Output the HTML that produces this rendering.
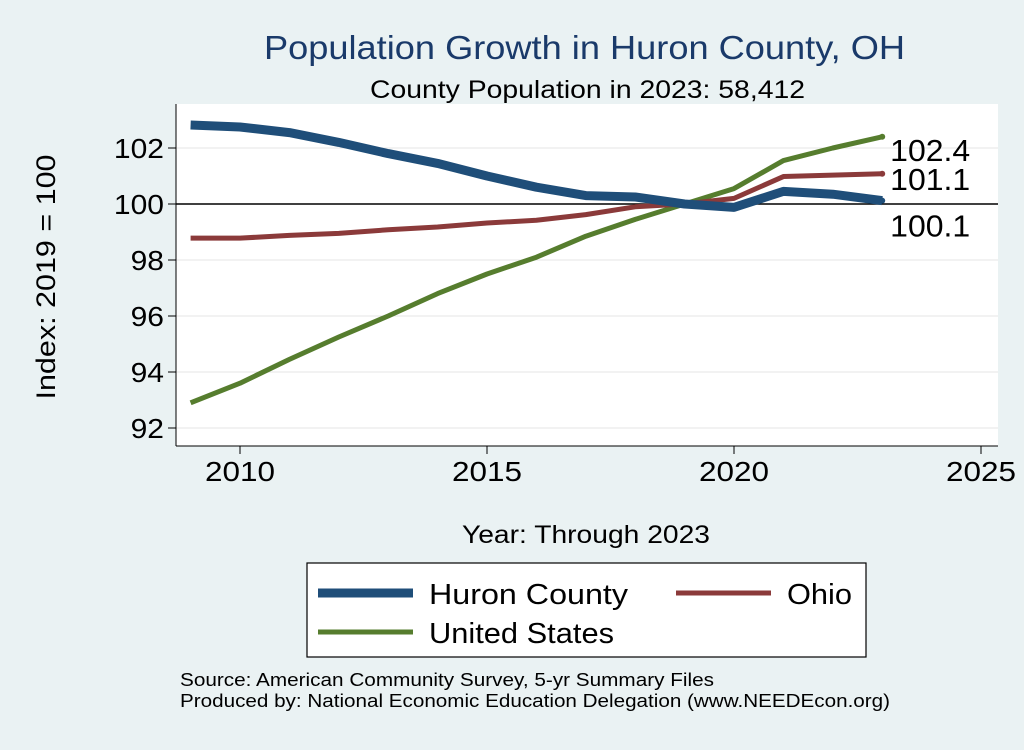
<!DOCTYPE html>
<html><head><meta charset="utf-8"><style>
body{margin:0;width:1024px;height:745px;background:#eaf2f3;font-family:"Liberation Sans",Arial,sans-serif;overflow:hidden}
</style></head><body>
<svg width="1024" height="745" xmlns="http://www.w3.org/2000/svg" font-family="Liberation Sans, Arial, sans-serif">
<rect x="0" y="0" width="1024" height="745" fill="#eaf2f3"/>
<text x="264" y="59" textLength="641" lengthAdjust="spacingAndGlyphs" font-size="33" fill="#1a3a6a">Population Growth in Huron County, OH</text>
<text x="370" y="98" textLength="435" lengthAdjust="spacingAndGlyphs" font-size="25" fill="#000">County Population in 2023: 58,412</text>
<rect x="176" y="104" width="822" height="342" fill="#fff"/>
<g id="grid"></g>
<g id="axes"></g>
<g id="series"></g>
<g id="labels"></g>
<text transform="translate(55,277) rotate(-90)" text-anchor="middle" textLength="245" lengthAdjust="spacingAndGlyphs" font-size="27">Index: 2019 = 100</text>
<text x="462" y="543" textLength="248" lengthAdjust="spacingAndGlyphs" font-size="25">Year: Through 2023</text>
<g>
<rect x="307" y="563" width="559" height="94" fill="#fff" stroke="#000" stroke-width="1.2"/>
<line x1="318" y1="593" x2="413" y2="593" stroke="#1f4e79" stroke-width="9"/>
<text x="429" y="604" textLength="199" lengthAdjust="spacingAndGlyphs" font-size="29">Huron  County</text>
<line x1="676" y1="593" x2="771" y2="593" stroke="#8b3a3a" stroke-width="5"/>
<text x="787" y="604" textLength="65" lengthAdjust="spacingAndGlyphs" font-size="29">Ohio</text>
<line x1="318" y1="632" x2="413" y2="632" stroke="#567d2e" stroke-width="5"/>
<text x="429" y="643" textLength="185" lengthAdjust="spacingAndGlyphs" font-size="29">United States</text>
</g>
<text x="180" y="686" textLength="534" lengthAdjust="spacingAndGlyphs" font-size="18">Source: American Community Survey, 5-yr Summary Files</text>
<text x="180" y="707" textLength="710" lengthAdjust="spacingAndGlyphs" font-size="18">Produced by: National Economic Education Delegation (www.NEEDEcon.org)</text>
</svg>
<script>
const years=[2009,2010,2011,2012,2013,2014,2015,2016,2017,2018,2019,2020,2021,2022,2023];
const huron=[102.82,102.75,102.55,102.2,101.8,101.45,101.0,100.6,100.3,100.25,100.0,99.88,100.45,100.35,100.12];
const ohio=[98.78,98.78,98.88,98.95,99.08,99.18,99.32,99.42,99.62,99.9,100.0,100.2,100.98,101.03,101.08];
const us=[92.9,93.6,94.45,95.25,96.0,96.8,97.5,98.1,98.85,99.45,100.0,100.55,101.55,102.0,102.4];
const yTicks=[92,94,96,98,100,102];
const xTicks=[2010,2015,2020,2025];
const NS="http://www.w3.org/2000/svg";
const X=v=>240+(v-2010)*49.4;
const Y=v=>204-(v-100)*28;
function mk(t,a,p){const e=document.createElementNS(NS,t);for(const k in a)e.setAttribute(k,a[k]);document.getElementById(p).appendChild(e);return e;}
yTicks.forEach(t=>{
 const g=mk('line',{x1:176,x2:998,y1:Y(t),y2:Y(t),stroke:t===100?'#000':'#e6e6e6','stroke-width':t===100?1.5:1},'grid');
 
 
 mk('line',{x1:168,x2:176,y1:Y(t),y2:Y(t),stroke:'#000'},'axes');
 const l=mk('text',{x:164,y:Y(t)+10,'text-anchor':'end','font-size':28,textLength:String(t).length*16.7,lengthAdjust:'spacingAndGlyphs'},'axes');l.textContent=t;
 
 
});
mk('line',{x1:176,x2:176,y1:104,y2:446,stroke:'#000'},'axes');
mk('line',{x1:176,x2:998,y1:446,y2:446,stroke:'#000'},'axes');
xTicks.forEach(t=>{
 mk('line',{x1:X(t),x2:X(t),y1:446,y2:454,stroke:'#000'},'axes');
 const l=mk('text',{x:X(t)-35,y:481,'font-size':28,textLength:70,lengthAdjust:'spacingAndGlyphs'},'axes');l.textContent=t;
 
 
});
function line(d,c,w,n){const p=mk('polyline',{points:d.map((v,i)=>X(years[i])+','+Y(v)).join(' '),fill:'none',stroke:c,'stroke-width':w,'stroke-linejoin':'round'},'series');
 
 
 const i=d.length-1;mk('circle',{cx:X(years[i]),cy:Y(d[i]),r:3,fill:c},'series');}
line(us,'#567d2e',5,'us-line');
line(ohio,'#8b3a3a',5,'ohio-line');
line(huron,'#1f4e79',9,'huron-line');
const last=years.length-1;
[[us,24],[ohio,16],[huron,36]].forEach(([d,o])=>{const t=mk('text',{x:X(years[last])+8,y:Y(d[last])+o,'font-size':31,textLength:80,lengthAdjust:'spacingAndGlyphs'},'labels');t.textContent=d[last].toFixed(1);
 
 });
</script>
</body></html>
